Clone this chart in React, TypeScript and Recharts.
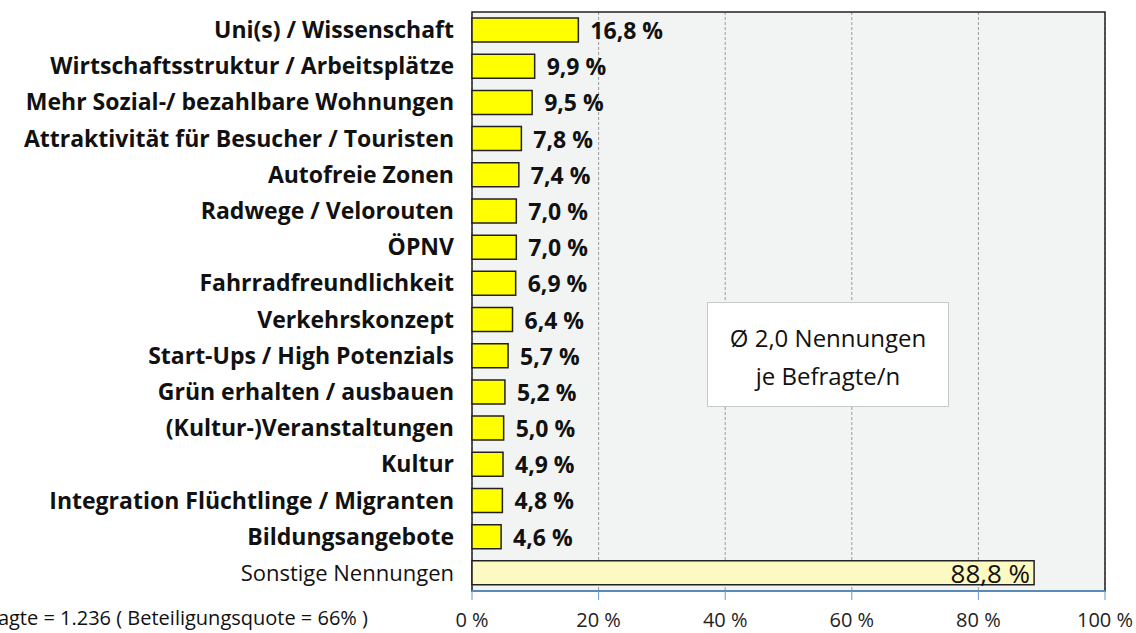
import React from 'react';
import {
    BarChart,
    Bar,
    XAxis,
    YAxis,
    CartesianGrid,
    Cell,
    LabelList,
    ReferenceArea
} from 'recharts';

const categories = [
    'Uni(s) / Wissenschaft',
    'Wirtschaftsstruktur / Arbeitsplätze',
    'Mehr Sozial-/ bezahlbare Wohnungen',
    'Attraktivität für Besucher / Touristen',
    'Autofreie Zonen',
    'Radwege / Velorouten',
    'ÖPNV',
    'Fahrradfreundlichkeit',
    'Verkehrskonzept',
    'Start-Ups / High Potenzials',
    'Grün erhalten / ausbauen',
    '(Kultur-)Veranstaltungen',
    'Kultur',
    'Integration Flüchtlinge / Migranten',
    'Bildungsangebote',
    'Sonstige Nennungen'
];

const shares = [16.8, 9.9, 9.5, 7.8, 7.4, 7.0, 7.0, 6.9, 6.4, 5.7, 5.2, 5.0, 4.9, 4.8, 4.6, 88.8];

const xTicks = [0, 20, 40, 60, 80, 100];

const OTHER = 'Sonstige Nennungen';
const FONT = '"Open Sans", sans-serif';

const fmt = (v: number) => v.toFixed(1).replace('.', ',') + ' %';

function CategoryTick(props: any) {
    const { x, y, payload } = props;
    const isOther = payload.value === OTHER;
    return (
        <text
            x={x - 10}
            y={y}
            dy={8}
            textAnchor="end"
            fontFamily={FONT}
            fontSize={isOther ? 22 : 23}
            fontWeight={isOther ? 400 : 700}
            fill="#111"
        >
            {payload.value}
        </text>
    );
}

function ValueLabel(props: any) {
    const { x, y, width, height, value, index } = props;
    const isOther = categories[index] === OTHER;
    if (isOther) {
        return (
            <text
                x={x + width - 4}
                y={y + height / 2}
                dy={10}
                textAnchor="end"
                fontFamily={FONT}
                fontSize={26}
                fill="#111"
            >
                {fmt(value)}
            </text>
        );
    }
    return (
        <text
            x={x + width + 12}
            y={y + height / 2}
            dy={9}
            fontFamily={FONT}
            fontSize={23}
            fontWeight={700}
            fill="#111"
        >
            {fmt(value)}
        </text>
    );
}

function AxisTick(props: any) {
    const { x, y, payload } = props;
    return (
        <text x={x} y={y + 25} textAnchor="middle" fontFamily={FONT} fontSize={20} fill="#222">
            {`${payload.value} %`}
        </text>
    );
}

export default function App() {
    const data = categories.map((name, i) => ({ name, value: shares[i] }));

    return (
        <div style={{ position: 'absolute', left: 0, top: 0, width: 1136, height: 633, background: '#fff', overflow: 'hidden' }}>
            <BarChart
                width={1136}
                height={633}
                data={data}
                layout="vertical"
                margin={{ top: 12, right: 31, left: 0, bottom: 0 }}
                barCategoryGap={6}
            >
                <CartesianGrid
                    horizontal={false}
                    strokeDasharray="3 2"
                    stroke="#9a9a9a"
                    fill="#f2f4f3"
                />
                <ReferenceArea x1={0} x2={100} fill="none" fillOpacity={0} stroke="#222" strokeWidth={1.5} />
                <XAxis
                    type="number"
                    domain={[0, 100]}
                    ticks={xTicks}
                    axisLine={{ stroke: '#5b9bd5', strokeWidth: 1.5 }}
                    tickLine={{ stroke: '#5b9bd5' }}
                    tickSize={9}
                    height={42}
                    tick={<AxisTick />}
                    interval={0}
                />
                <YAxis
                    type="category"
                    dataKey="name"
                    width={472}
                    axisLine={false}
                    tickLine={false}
                    tick={<CategoryTick />}
                    interval={0}
                />
                <Bar dataKey="value" barSize={24} stroke="#222" strokeWidth={1.5} isAnimationActive={false}>
                    {data.map((d) => (
                        <Cell key={d.name} fill={d.name === OTHER ? '#fdf9c2' : '#ffff00'} />
                    ))}
                    <LabelList dataKey="value" content={<ValueLabel />} />
                </Bar>
            </BarChart>
            <div
                style={{
                    position: 'absolute',
                    left: 707,
                    top: 302,
                    width: 242,
                    height: 105,
                    boxSizing: 'border-box',
                    border: '1.5px solid #c8c8c8',
                    background: '#fff',
                    fontFamily: FONT,
                    fontSize: 24,
                    color: '#111',
                    textAlign: 'center',
                    lineHeight: '38px',
                    paddingTop: 16
                }}
            >
                Ø 2,0 Nennungen<br />je Befragte/n
            </div>
            <div
                style={{
                    position: 'absolute',
                    right: 1136 - 368,
                    top: 604,
                    whiteSpace: 'nowrap',
                    fontFamily: FONT,
                    fontSize: 20,
                    color: '#111'
                }}
            >
                n Befragte = 1.236 ( Beteiligungsquote = 66% )
            </div>
        </div>
    );
}
